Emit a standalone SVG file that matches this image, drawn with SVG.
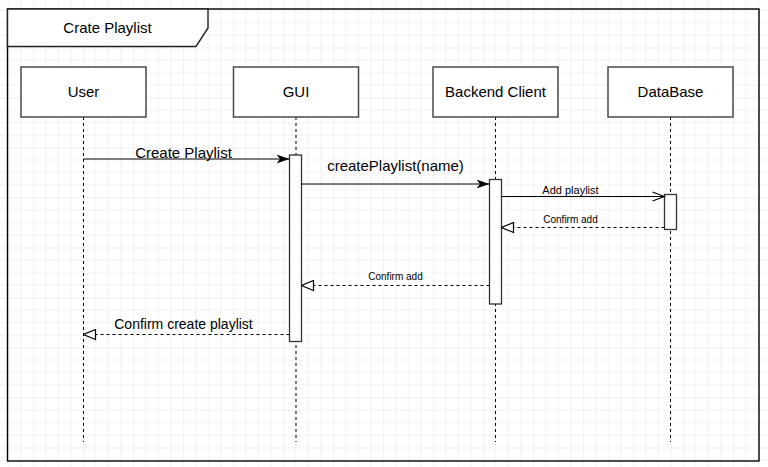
<svg xmlns="http://www.w3.org/2000/svg" width="768" height="467" viewBox="0 0 768 467">
<style>
.lbl{font-family:"Liberation Sans",Arial,sans-serif;fill:#000;text-anchor:middle}
.box{fill:#fff;stroke:#4a4a4a;stroke-width:1.5}
.act{fill:#fff;stroke:#333;stroke-width:1.3}
.life{stroke:#000;stroke-width:1;stroke-dasharray:3 3;fill:none}
.msg{stroke:#000;stroke-width:1;fill:none}
.ret{stroke:#000;stroke-width:1;stroke-dasharray:3 3;fill:none}
</style>
<defs>
<pattern id="grid" patternUnits="userSpaceOnUse" x="-16.67" y="-2.5" width="50" height="50">
<path d="M12.5 0V50M25 0V50M37.5 0V50M0 12.5H50M0 25H50M0 37.5H50" stroke="#f0f0f0" stroke-width="1" fill="none"/>
<path d="M0 0V50M0 0H50" stroke="#e0e0e0" stroke-width="1" fill="none"/>
</pattern>
<marker id="block" markerUnits="userSpaceOnUse" viewBox="0 0 13 10" refX="13" refY="5" markerWidth="13" markerHeight="10" orient="auto">
<path d="M0 0.5L13 5L0 9.5L3.5 5Z" fill="#000"/>
</marker>
<marker id="open" markerUnits="userSpaceOnUse" viewBox="0 0 14 12" refX="13" refY="6" markerWidth="14" markerHeight="12" orient="auto">
<path d="M1 1.5L13 6L1 10.5" fill="none" stroke="#000" stroke-width="1.2"/>
</marker>
<marker id="tri" markerUnits="userSpaceOnUse" viewBox="0 0 14 12" refX="13" refY="6" markerWidth="14" markerHeight="12" orient="auto">
<path d="M1 1L13 6L1 11Z" fill="#fff" stroke="#000" stroke-width="1.2"/>
</marker>
</defs>
<rect x="0" y="0" width="768" height="467" fill="#fff"/>
<rect x="0" y="0" width="768" height="467" fill="url(#grid)"/>

<g id="frame">
<rect x="7.5" y="9" width="751.5" height="452" fill="none" stroke="#000" stroke-width="1.4"/>
<path d="M7.5 9H208V28L196 46.5H7.5Z" fill="#fff" stroke="#222" stroke-width="1.4"/>
<text class="lbl" x="107.5" y="33" font-size="15">Crate Playlist</text>
</g>

<g id="lifelines">
<line class="life" x1="83.5" y1="117" x2="83.5" y2="442"/>
<line class="life" x1="296" y1="117" x2="296" y2="442"/>
<line class="life" x1="495.5" y1="117" x2="495.5" y2="442"/>
<line class="life" x1="670.5" y1="117" x2="670.5" y2="442"/>
</g>

<g id="user">
<rect class="box" x="21" y="67" width="125" height="50"/>
<text class="lbl" x="83.5" y="97" font-size="15">User</text>
</g>
<g id="gui">
<rect class="box" x="233.5" y="67" width="125" height="50"/>
<text class="lbl" x="296" y="97" font-size="15">GUI</text>
<rect class="act" x="289.5" y="155" width="12" height="186.5"/>
</g>
<g id="backend">
<rect class="box" x="433" y="67" width="125" height="50"/>
<text class="lbl" x="495.5" y="97" font-size="15">Backend Client</text>
<rect class="act" x="489.5" y="179.5" width="12" height="124.5"/>
</g>
<g id="database">
<rect class="box" x="608" y="67" width="125" height="50"/>
<text class="lbl" x="670.5" y="97" font-size="15">DataBase</text>
<rect class="act" x="664.5" y="194.5" width="12" height="35"/>
</g>

<g id="connectors">
<line class="msg" x1="83.5" y1="159" x2="289.5" y2="159" marker-end="url(#block)"/>
<text class="lbl" x="183.5" y="157.5" font-size="15">Create Playlist</text>
<line class="msg" x1="301.5" y1="184" x2="489.5" y2="184" marker-end="url(#block)"/>
<text class="lbl" x="395.5" y="171" font-size="15">createPlaylist(name)</text>
<line class="msg" x1="501.5" y1="196.5" x2="664.5" y2="196.5" marker-end="url(#open)"/>
<text class="lbl" x="570.5" y="194" font-size="11">Add playlist</text>
<line class="ret" x1="664.5" y1="227.5" x2="501.5" y2="227.5" marker-end="url(#tri)"/>
<text class="lbl" x="570.5" y="222.5" font-size="10">Confirm add</text>
<line class="ret" x1="489.5" y1="285.5" x2="301.5" y2="285.5" marker-end="url(#tri)"/>
<text class="lbl" x="395.5" y="280" font-size="10">Confirm add</text>
<line class="ret" x1="289.5" y1="334.5" x2="83.5" y2="334.5" marker-end="url(#tri)"/>
<text class="lbl" x="183.5" y="329" font-size="14">Confirm create playlist</text>
</g>
</svg>
